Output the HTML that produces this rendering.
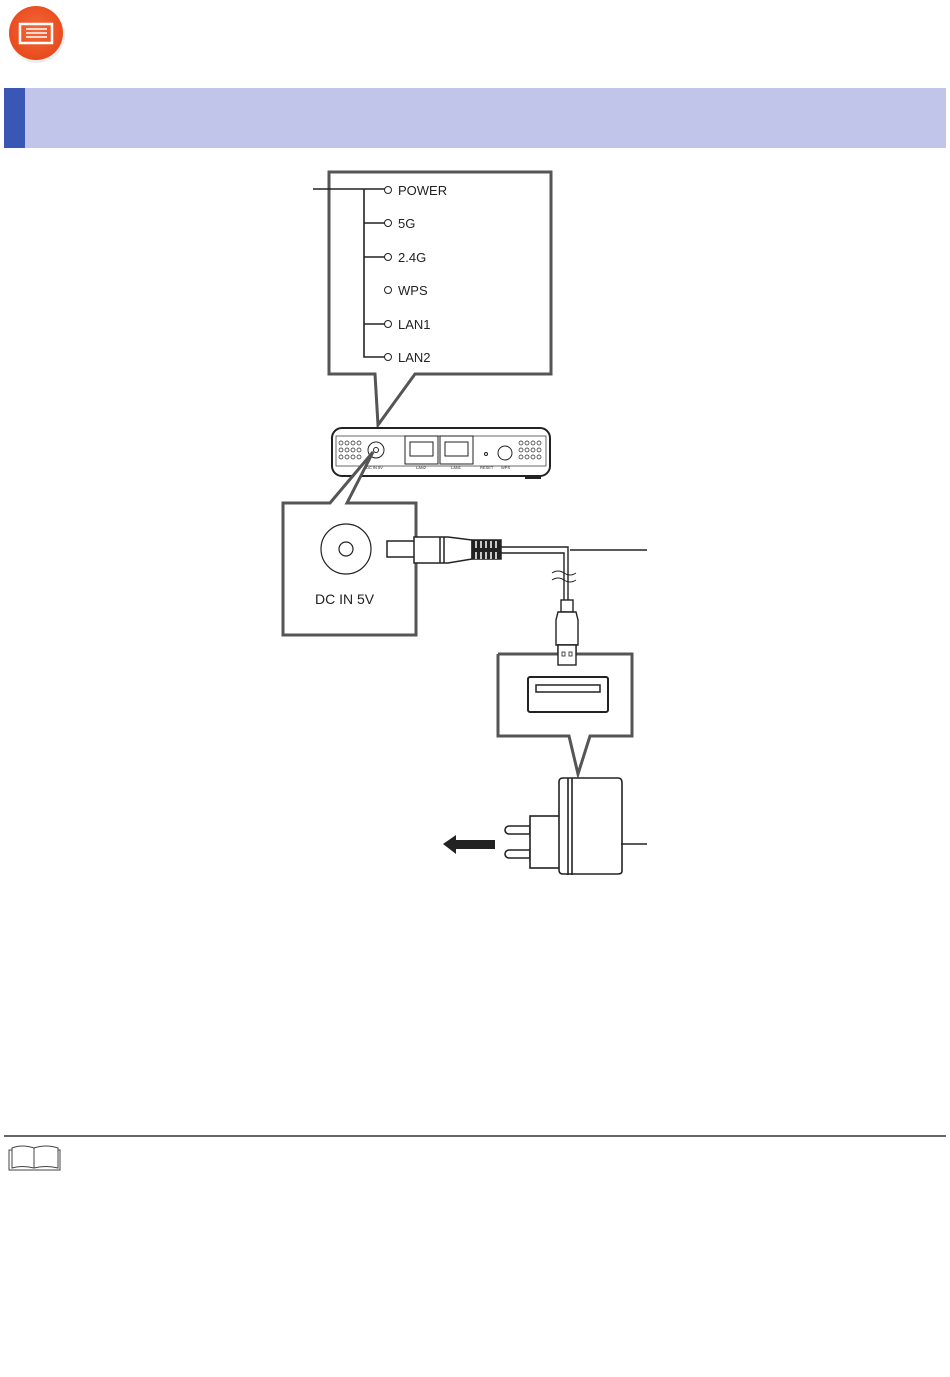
<!DOCTYPE html>
<html><head><style>
body{margin:0;background:#fff;width:950px;height:1372px;overflow:hidden;font-family:"Liberation Sans",sans-serif}
</style></head><body>
<svg width="950" height="1372" viewBox="0 0 950 1372" xmlns="http://www.w3.org/2000/svg" font-family="Liberation Sans, sans-serif">
<defs><radialGradient id="g" cx="50%" cy="45%" r="55%"><stop offset="0" stop-color="#f26a3a"/><stop offset="1" stop-color="#e8491c"/></radialGradient></defs>
<circle cx="37" cy="35" r="28" fill="#ddd" opacity=".5"/>
<circle cx="36" cy="33" r="27" fill="url(#g)"/>
<rect x="20" y="24" width="32" height="19" fill="none" stroke="#fff" stroke-width="2.5"/>
<line x1="26" y1="29" x2="47" y2="29" stroke="#fff" stroke-width="1.5"/>
<line x1="26" y1="33" x2="47" y2="33" stroke="#fff" stroke-width="1.5"/>
<line x1="26" y1="37" x2="47" y2="37" stroke="#fff" stroke-width="1.5"/>
<rect x="4" y="88" width="942" height="60" fill="#c1c5e9"/>
<rect x="4" y="88" width="21" height="60" fill="#3b57b5"/>

<g stroke="#555" stroke-width="3" fill="#fff">
<path d="M329 172 H551 V374 H415 L378 425 L375 374 H329 Z"/>
</g>
<g stroke="#222" stroke-width="1.6" fill="none">
<path d="M313 189 H385 M364 189 V357 H385 M364 223 H385 M364 257 H385 M364 324 H385"/>
</g>
<g stroke="#222" stroke-width="1" fill="#fff">
<circle cx="388" cy="190" r="3.5"/><circle cx="388" cy="223" r="3.5"/><circle cx="388" cy="257" r="3.5"/><circle cx="388" cy="290" r="3.5"/><circle cx="388" cy="324" r="3.5"/><circle cx="388" cy="357" r="3.5"/>
</g>
<g font-size="13" fill="#222">
<text x="398" y="195">POWER</text><text x="398" y="228">5G</text><text x="398" y="262">2.4G</text><text x="398" y="295">WPS</text><text x="398" y="329">LAN1</text><text x="398" y="362">LAN2</text>
</g>

<!-- router -->
<rect x="332" y="428" width="218" height="48" rx="10" fill="#fff" stroke="#222" stroke-width="2"/>
<rect x="336" y="436" width="210" height="30" fill="none" stroke="#444" stroke-width="0.8"/>
<rect x="525" y="475" width="16" height="4" fill="#222"/>
<circle cx="376" cy="450" r="8" fill="none" stroke="#222"/><circle cx="376" cy="450" r="2.5" fill="none" stroke="#222"/>
<rect x="405" y="436" width="33" height="28" fill="none" stroke="#222"/><rect x="440" y="436" width="33" height="28" fill="none" stroke="#222"/>
<rect x="410" y="442" width="23" height="14" fill="none" stroke="#222"/><rect x="445" y="442" width="23" height="14" fill="none" stroke="#222"/>
<circle cx="505" cy="453" r="7" fill="none" stroke="#222"/><circle cx="486" cy="454" r="1.5" fill="none" stroke="#222"/>
<g fill="none" stroke="#222" stroke-width="0.7">
<circle cx="341" cy="443" r="2"/><circle cx="347" cy="443" r="2"/><circle cx="353" cy="443" r="2"/><circle cx="359" cy="443" r="2"/>
<circle cx="341" cy="450" r="2"/><circle cx="347" cy="450" r="2"/><circle cx="353" cy="450" r="2"/><circle cx="359" cy="450" r="2"/>
<circle cx="341" cy="457" r="2"/><circle cx="347" cy="457" r="2"/><circle cx="353" cy="457" r="2"/><circle cx="359" cy="457" r="2"/>
<circle cx="521" cy="443" r="2"/><circle cx="527" cy="443" r="2"/><circle cx="533" cy="443" r="2"/><circle cx="539" cy="443" r="2"/>
<circle cx="521" cy="450" r="2"/><circle cx="527" cy="450" r="2"/><circle cx="533" cy="450" r="2"/><circle cx="539" cy="450" r="2"/>
<circle cx="521" cy="457" r="2"/><circle cx="527" cy="457" r="2"/><circle cx="533" cy="457" r="2"/><circle cx="539" cy="457" r="2"/>
</g>
<g font-size="4" fill="#222"><text x="366" y="469">DC IN 5V</text><text x="416" y="469">LAN2</text><text x="451" y="469">LAN1</text><text x="480" y="469">RESET</text><text x="501" y="469">WPS</text></g>

<!-- DC box -->
<path d="M283 503 H330 L373 452 L347 503 H416 V635 H283 Z" fill="#fff" stroke="#555" stroke-width="3"/>
<circle cx="346" cy="549" r="25" fill="none" stroke="#222" stroke-width="1.2"/>
<circle cx="346" cy="549" r="7" fill="none" stroke="#222" stroke-width="1.2"/>
<text x="315" y="604" font-size="14" fill="#222">DC IN 5V</text>
<!-- plug -->
<g stroke="#222" stroke-width="1.5" fill="#fff">
<rect x="387" y="541" width="30" height="16"/>
<path d="M414 537 H448 L472 540 V559 L448 563 H414 Z"/>
<line x1="440" y1="537" x2="440" y2="563"/><line x1="444" y1="537" x2="444" y2="563"/>
<path d="M472 540 h29 v19 h-29 z" fill="#222"/>
</g>
<g stroke="#fff" stroke-width="1.5"><line x1="476" y1="541" x2="476" y2="548"/><line x1="481" y1="541" x2="481" y2="548"/><line x1="486" y1="541" x2="486" y2="548"/><line x1="491" y1="541" x2="491" y2="548"/><line x1="496" y1="541" x2="496" y2="548"/>
<line x1="476" y1="552" x2="476" y2="559"/><line x1="481" y1="552" x2="481" y2="559"/><line x1="486" y1="552" x2="486" y2="559"/><line x1="491" y1="552" x2="491" y2="559"/><line x1="496" y1="552" x2="496" y2="559"/></g>
<g stroke="#222" stroke-width="1.4" fill="none">
<path d="M501 547 H568 V600 M501 553 H564 V600"/>
<line x1="570" y1="550" x2="647" y2="550"/>
<path d="M552 573 q6 -4 12 0 t12 0 M552 580 q6 -4 12 0 t12 0" stroke-width="1"/>
</g>
<!-- USB connector -->
<g stroke="#222" stroke-width="1.4" fill="#fff">
<rect x="561" y="600" width="12" height="12"/>
<path d="M558 612 H576 L578 620 V645 H556 V620 Z"/>
<rect x="558" y="645" width="18" height="20"/>
</g>
<!-- USB box -->
<path d="M498 654 H558 M576 654 H632 V736 H590 L578 774 L569 736 H498 V654" fill="#fff" stroke="#555" stroke-width="3"/>
<rect x="558" y="645" width="18" height="20" fill="#fff" stroke="#222" stroke-width="1.4"/>
<rect x="562" y="652" width="3" height="4" fill="none" stroke="#222" stroke-width=".8"/><rect x="569" y="652" width="3" height="4" fill="none" stroke="#222" stroke-width=".8"/>
<rect x="528" y="677" width="80" height="35" rx="2" fill="#fff" stroke="#222" stroke-width="2"/>
<rect x="536" y="685" width="64" height="7" fill="none" stroke="#222" stroke-width="1.5"/>
<!-- adapter -->
<g stroke="#222" stroke-width="1.6" fill="#fff">
<path d="M509 826 H530 V834 H509 a4 4 0 0 1 0 -8 Z"/>
<path d="M509 850 H530 V858 H509 a4 4 0 0 1 0 -8 Z"/>
<rect x="530" y="816" width="30" height="52"/>
<path d="M559 782 q0 -4 4 -4 H618 q4 0 4 5 V871 q0 3 -4 3 H563 q-4 0 -4 -4 Z"/>
<line x1="568" y1="778" x2="568" y2="875"/><line x1="572" y1="778" x2="572" y2="875"/>
</g>
<line x1="621" y1="844" x2="647" y2="844" stroke="#222" stroke-width="1.4"/>
<path d="M443 844 L456 835 V840 H495 V849 H456 V854 Z" fill="#222"/>

<line x1="4" y1="1136" x2="946" y2="1136" stroke="#333" stroke-width="1.5"/>
<g stroke="#444" fill="#fff" stroke-width="1">
<path d="M9 1170 V1150 H60 V1170 Z"/>
<path d="M12 1168 V1148 q10 -4 22 0 q12 -4 24 0 V1168 q-12 -3 -24 0 q-12 -3 -22 0 Z"/>
<line x1="34" y1="1148" x2="34" y2="1168"/>
</g>
</svg>
</body></html>
